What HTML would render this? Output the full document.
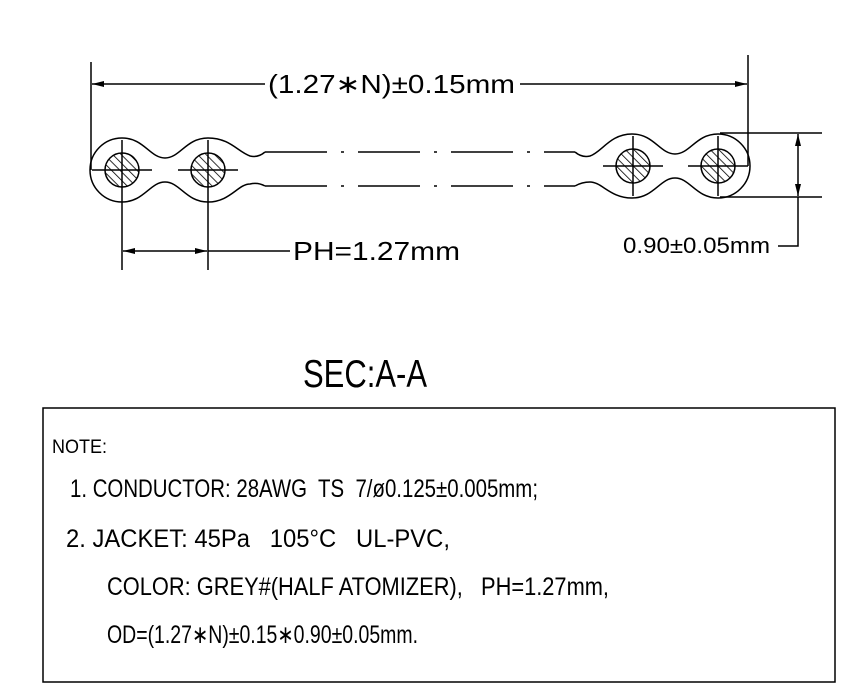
<!DOCTYPE html>
<html><head><meta charset="utf-8"><style>
html,body{margin:0;padding:0;background:#fff;}
svg{display:block;}
text{font-family:"Liberation Sans",sans-serif;fill:#000;white-space:pre;}
</style></head><body>
<svg width="857" height="695" viewBox="0 0 857 695" xmlns="http://www.w3.org/2000/svg" xml:space="preserve">
<defs>
<pattern id="h" patternUnits="userSpaceOnUse" width="6" height="6" patternTransform="rotate(-45)">
<line x1="0" y1="0" x2="0" y2="6" stroke="#000" stroke-width="1.6"/>
</pattern>
<marker id="a" viewBox="0 0 12 6" refX="12" refY="3" markerWidth="12" markerHeight="6" markerUnits="userSpaceOnUse" orient="auto">
<path d="M0 0 L12 3 L0 6 Z" fill="#000"/>
</marker>
</defs>
<g stroke="#000" stroke-width="1.5" fill="none">
<line x1="91" y1="62" x2="91" y2="170"/>
<line x1="748" y1="55" x2="748" y2="166"/>
<line x1="265" y1="84" x2="92" y2="84" marker-end="url(#a)"/>
<line x1="520" y1="84" x2="747" y2="84" marker-end="url(#a)"/>
<path d="M265 152 Q258 158 250 156 C238 152 230 138 208 138 C186 138 180 158 165 158 C150 158 144 138 122 138 A32 32 0 0 0 122 202 C144 202 150 182 165 182 C180 182 186 202 208 202 C230 202 238 184 250 184 Q258 182 265 186"/>
<g transform="translate(840,-4) scale(-1,1)">
<path d="M265 156 Q258 162 250 160 C238 156 230 138 208 138 C186 138 180 158 165 158 C150 158 144 138 122 138 A32 32 0 0 0 122 202 C144 202 150 182 165 182 C180 182 186 202 208 202 C230 202 238 186 250 186 Q258 186 265 190"/>
</g>
<line x1="265" y1="152" x2="575" y2="152" stroke-dasharray="62 14 3 14"/>
<line x1="265" y1="186" x2="575" y2="186" stroke-dasharray="62 14 3 14"/>
<circle cx="122" cy="170" r="17" fill="url(#h)"/>
<circle cx="208" cy="170" r="17" fill="url(#h)"/>
<circle cx="633" cy="166" r="17" fill="url(#h)"/>
<circle cx="718" cy="166" r="17" fill="url(#h)"/>
<line x1="92" y1="170" x2="152" y2="170"/>
<line x1="178" y1="170" x2="238" y2="170"/>
<line x1="603" y1="166" x2="663" y2="166"/>
<line x1="688" y1="166" x2="748" y2="166"/>
<line x1="122" y1="140" x2="122" y2="270"/>
<line x1="208" y1="140" x2="208" y2="270"/>
<line x1="633" y1="136" x2="633" y2="196"/>
<line x1="718" y1="136" x2="718" y2="196"/>
<line x1="165" y1="251" x2="123" y2="251" marker-end="url(#a)"/>
<line x1="165" y1="251" x2="207" y2="251" marker-end="url(#a)"/>
<line x1="208" y1="251" x2="290" y2="251"/>
<line x1="720" y1="133" x2="822" y2="133"/>
<line x1="720" y1="197" x2="822" y2="197"/>
<line x1="798" y1="165" x2="798" y2="134" marker-end="url(#a)"/>
<line x1="798" y1="165" x2="798" y2="196" marker-end="url(#a)"/>
<polyline points="798,197 798,246 778,246"/>
<rect x="43" y="408" width="792" height="274"/>
</g>
<text x="268" y="93" font-size="26" textLength="247" lengthAdjust="spacingAndGlyphs">(1.27∗N)±0.15mm</text>
<text x="293" y="260" font-size="26" textLength="167" lengthAdjust="spacingAndGlyphs">PH=1.27mm</text>
<text x="623" y="253" font-size="22" textLength="147" lengthAdjust="spacingAndGlyphs">0.90±0.05mm</text>
<text x="303" y="387" font-size="39" textLength="124" lengthAdjust="spacingAndGlyphs">SEC:A-A</text>
<text x="52" y="453" font-size="19" textLength="55" lengthAdjust="spacingAndGlyphs">NOTE:</text>
<text x="70" y="497" font-size="25" textLength="468" lengthAdjust="spacingAndGlyphs">1. CONDUCTOR: 28AWG  TS  7/ø0.125±0.005mm;</text>
<text x="66" y="547" font-size="25" textLength="384" lengthAdjust="spacingAndGlyphs">2. JACKET: 45Pa   105°C   UL-PVC,</text>
<text x="107" y="595" font-size="25" textLength="502" lengthAdjust="spacingAndGlyphs">COLOR: GREY#(HALF ATOMIZER),   PH=1.27mm,</text>
<text x="107" y="643" font-size="25" textLength="311" lengthAdjust="spacingAndGlyphs">OD=(1.27∗N)±0.15∗0.90±0.05mm.</text>
</svg>
</body></html>
